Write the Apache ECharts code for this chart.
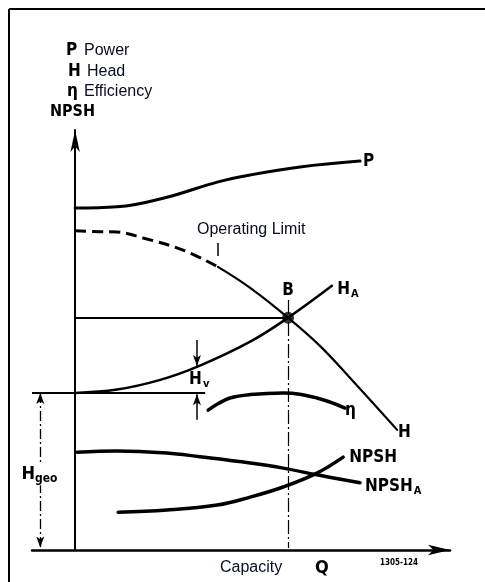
<!DOCTYPE html>
<html><head><meta charset="utf-8">
<script src="https://cdn.jsdelivr.net/npm/echarts@6/dist/echarts.min.js"></script>
<style>html,body{margin:0;padding:0;background:#fff}#c{width:485px;height:582px}</style>
</head><body><div id="c"></div>
<script>
// ---- data (capacity Q in %, head in %) ----
const powerQ = [0, 11.2, 24.5, 37.9, 46.7, 60, 76];
const powerH = [81.4, 81.7, 84.0, 87.6, 89.3, 91.2, 92.6];
const headDashQ = [0, 6.7, 11.2, 18.1, 28.8, 38.1];
const headDashH = [76.0, 75.8, 75.7, 74.3, 71.4, 67.4];
const headQ = [38.1, 46.7, 56.8, 65.3, 73.3, 85.9];
const headH = [67.4, 62.4, 55.3, 48.6, 41.0, 28.6];
const systemQ = [0, 11.2, 22.7, 33.3, 46.7, 56.8, 68.5];
const systemH = [37.4, 38.2, 40.5, 43.9, 49.6, 55.3, 62.9];
const effQ = [35.5, 38.1, 41.3, 46.7, 55.5, 64.5, 72];
const effH = [33.3, 34.8, 36.2, 37.0, 37.4, 36.2, 33.8];
const npshAQ = [0.5, 11.2, 24.5, 33.3, 46.7, 55.5, 64.5, 76];
const npshAH = [23.3, 23.6, 23.1, 22.2, 20.7, 19.5, 17.9, 16.0];
const npshQ = [11.5, 24.5, 37.9, 46.7, 55.5, 64.5, 71.5];
const npshH = [9.0, 9.5, 10.7, 12.6, 15.0, 18.3, 22.1];
const dutyPoint = [56.8, 55.3];          // B
const staticHead = 37.4;                 // H_geo level
const staticLineQ = [-11.5, 34.7];
const limitQ = 38.1;                     // operating limit
const limitTickH = [73.1, 70.0];
const hvQ = 32.5;
const hvTopH = [50.0, 43.8];
const hvBottomH = [31.0, 37.1];
const hgeoQ = -9.3;
const dutyLineTopH = 59.5;
const xMin = -11.5, xMax = 100, yMin = 0, yMax = 100;

const labelTexts = ['{b|P}', '{b|B}', '{b|H}{s|A}', '{b|H}', '{b|η}', '{b|NPSH}', '{b|NPSH}{s|A}', '{b|H}{s|v}', '{bg|H}{sg|geo}', '{t|Operating Limit}'];
const labelQ = [76.8, 56.8, 69.9, 86.1, 72.0, 73.1, 77.3, 30.4, -9.5, 32.5];
const labelH = [92.6, 61.7, 61.9, 27.9, 33.1, 21.9, 15.0, 40.5, 17.9, 76.2];
const labelAlign = ['left', 'center', 'left', 'left', 'left', 'left', 'left', 'left', 'center', 'left'];

const legendSymbols = ['P', 'H', 'η'];
const legendWords = ['Power', 'Head', 'Efficiency'];
const axisTitle = 'NPSH';
const xTitle = 'Capacity';
const xSymbol = 'Q';
const drawingNo = '1305-124';

// ---- styling ----
const BOLD = '"DejaVu Sans Condensed","DejaVu Sans",sans-serif';
const SANS = '"Liberation Sans",Arial,sans-serif';
const TXT = '#060c22';
const pairs = (q, h) => q.map((v, i) => [v, h[i]]);
const curve = (name, q, h, w, extra) => Object.assign({
  type: 'line', name, data: pairs(q, h), smooth: 0.4, symbol: 'none', silent: true, z: 3,
  lineStyle: { color: '#000', width: w, cap: 'round' }
}, extra || {});
const seg = (a, b, width, type, s1, s2) => [
  { coord: a, symbol: s1 || 'none', symbolSize: [6, 11], lineStyle: { color: '#000', width, type: type || 'solid' } },
  { coord: b, symbol: s2 || 'none', symbolSize: [6, 11] }
];
const noBorder = { textBorderWidth: 0, textBorderColor: 'transparent', textShadowBlur: 0 };
const rich = {
  b: Object.assign({ fontFamily: BOLD, fontWeight: 'bold', fontSize: 17, color: '#000' }, noBorder),
  s: Object.assign({ fontFamily: BOLD, fontWeight: 'bold', fontSize: 11, color: '#000', padding: [9, 0, 0, 1] }, noBorder),
  bg: Object.assign({ fontFamily: BOLD, fontWeight: 'bold', fontSize: 18, color: '#000', backgroundColor: '#fff' }, noBorder),
  sg: Object.assign({ fontFamily: BOLD, fontWeight: 'bold', fontSize: 12, color: '#000', padding: [9, 0, 0, 0], backgroundColor: '#fff' }, noBorder),
  t: Object.assign({ fontFamily: SANS, fontSize: 16, color: TXT }, noBorder)
};

const chart = echarts.init(document.getElementById('c'), null, { renderer: 'canvas' });
const graphic = [
  { type: 'line', shape: { x1: 9, y1: 9, x2: 485, y2: 9 }, style: { stroke: '#000', lineWidth: 2 } },
  { type: 'line', shape: { x1: 9, y1: 9, x2: 9, y2: 582 }, style: { stroke: '#000', lineWidth: 2 } }
];
const legX = [66, 68, 67], legWX = [84, 87, 84], legY = [51, 72, 92];
legendSymbols.forEach((s, i) => {
  graphic.push({ type: 'text', style: { x: legX[i], y: legY[i], text: s, font: 'bold 17px ' + BOLD, fill: '#000', verticalAlign: 'middle' } });
  graphic.push({ type: 'text', style: { x: legWX[i], y: legY[i], text: legendWords[i], font: '16px ' + SANS, fill: TXT, verticalAlign: 'middle' } });
});
graphic.push({ type: 'text', style: { x: 50, y: 112, text: axisTitle, font: 'bold 16px ' + BOLD, fill: '#000', verticalAlign: 'middle' } });
graphic.push({ type: 'text', style: { x: 220, y: 568, text: xTitle, font: '16px ' + SANS, fill: TXT, verticalAlign: 'middle' } });
graphic.push({ type: 'text', style: { x: 322, y: 568, text: xSymbol, font: 'bold 18px ' + BOLD, fill: '#000', align: 'center', verticalAlign: 'middle' } });
graphic.push({ type: 'text', style: { x: 380, y: 563, text: drawingNo, font: 'bold 8px ' + BOLD, fill: '#000', verticalAlign: 'middle' } });

chart.setOption({
  animation: false,
  backgroundColor: '#fff',
  grid: { left: 32, right: 35, top: 130, bottom: 32, containLabel: false },
  xAxis: {
    type: 'value', min: xMin, max: xMax,
    axisLine: { show: true, onZero: true, symbol: ['none', 'arrow'], symbolSize: [8, 22], lineStyle: { color: '#000', width: 2.5 } },
    axisTick: { show: false }, axisLabel: { show: false }, splitLine: { show: false }
  },
  yAxis: {
    type: 'value', min: yMin, max: yMax,
    axisLine: { show: true, onZero: true, symbol: ['none', 'arrow'], symbolSize: [7, 22], lineStyle: { color: '#000', width: 2 } },
    axisTick: { show: false }, axisLabel: { show: false }, splitLine: { show: false }
  },
  graphic,
  series: [
    curve('P', powerQ, powerH, 3),
    curve('H dashed', headDashQ, headDashH, 3, { lineStyle: { color: '#000', width: 3, type: [11, 6] } }),
    curve('H', headQ, headH, 2.2),
    curve('HA', systemQ, systemH, 2.5),
    curve('eta', effQ, effH, 3.5),
    curve('NPSHA', npshAQ, npshAH, 3.5),
    curve('NPSH', npshQ, npshH, 3.5),
    {
      type: 'scatter', name: 'B', data: [dutyPoint], symbolSize: 12, itemStyle: { color: '#000' }, z: 5, silent: true,
      markLine: {
        silent: true, animation: false, label: { show: false }, symbol: 'none',
        data: [
          seg([0, dutyPoint[1]], dutyPoint, 2),
          seg([staticLineQ[0], staticHead], [staticLineQ[1], staticHead], 2),
          seg([dutyPoint[0], dutyLineTopH], [dutyPoint[0], 0.5], 1.2, [14, 3, 2, 3]),
          seg([limitQ, limitTickH[0]], [limitQ, limitTickH[1]], 1.5),
          seg([hvQ, hvTopH[0]], [hvQ, hvTopH[1]], 1.5, 'solid', 'none', 'arrow'),
          seg([hvQ, hvBottomH[0]], [hvQ, hvBottomH[1]], 1.5, 'solid', 'none', 'arrow'),
          seg([hgeoQ, staticHead], [hgeoQ, 0.6], 1.3, [10, 3, 2, 3], 'arrow', 'arrow')
        ]
      }
    },
    {
      type: 'scatter', name: 'labels', symbolSize: 0, silent: true, clip: false, z: 10,
      itemStyle: { color: '#000', opacity: 1 },
      data: labelTexts.map((t, i) => ({
        value: [labelQ[i], labelH[i]],
        label: Object.assign({ show: true, position: 'right', distance: 0, color: '#000', opacity: 1, formatter: t, align: labelAlign[i], verticalAlign: 'middle', rich }, noBorder)
      }))
    }
  ]
});
</script></body></html>
